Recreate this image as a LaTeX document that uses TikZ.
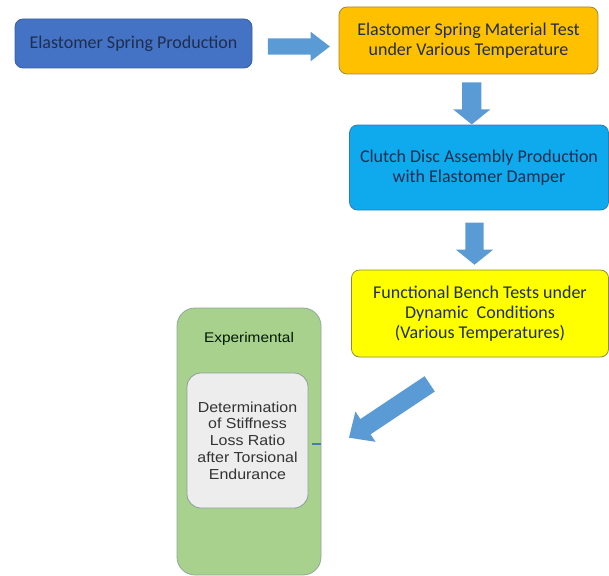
\documentclass[tikz,border=0pt]{standalone}
\usepackage{fontspec}
\setmainfont{Carlito}
\newfontfamily\arialwide[FakeStretch=1.1]{Liberation Sans}
\usetikzlibrary{calc}
\usetikzlibrary{positioning}
\usetikzlibrary{shapes.arrows}

\definecolor{springblue}{HTML}{4472C4}
\definecolor{springline}{HTML}{3A5FA0}
\definecolor{testorange}{HTML}{FFC000}
\definecolor{testline}{HTML}{9C8A3A}
\definecolor{clutchblue}{HTML}{0FAAEE}
\definecolor{clutchline}{HTML}{2A7FAE}
\definecolor{benchyellow}{HTML}{FFFF00}
\definecolor{benchline}{HTML}{8E8E3A}
\definecolor{expgreen}{HTML}{A9D18E}
\definecolor{expline}{HTML}{8FA89A}
\definecolor{detgray}{HTML}{EDEDED}
\definecolor{detline}{HTML}{8D9C9C}
\definecolor{flowblue}{HTML}{5B9BD5}
\definecolor{textnavy}{HTML}{1F2E4E}

\begin{document}
\begin{tikzpicture}[x=1pt,y=-1pt,
    stagebox/.style={draw,line width=0.8pt,rounded corners=8pt,align=center,
      inner sep=0pt,text=textnavy,font=\fontsize{18}{20}\selectfont},
    flowarrow/.style={single arrow,fill=flowblue,draw=none,inner xsep=0pt}]
    \useasboundingbox (0,0) rectangle (609,575);
    % process chain
    \node[stagebox,fill=springblue,draw=springline,minimum width=237pt,minimum height=49pt]
      (spring) at (133.5,43.5) {Elastomer Spring Production};
    \node[stagebox,fill=testorange,draw=testline,minimum width=259pt,minimum height=67pt]
      (test) at (468.5,40.5) {Elastomer Spring Material Test\\under Various Temperature};
    \node[stagebox,fill=clutchblue,draw=clutchline,minimum width=259pt,minimum height=85pt]
      (clutch) at (479,167.5) {Clutch Disc Assembly Production\\with Elastomer Damper};
    \node[stagebox,fill=benchyellow,draw=benchline,minimum width=257pt,minimum height=87pt]
      (bench) at (480,313.5) {Functional Bench Tests under\\Dynamic~ Conditions\\(Various Temperatures)};
    % experimental part
    \node[draw=expline,fill=expgreen,line width=0.8pt,rounded corners=18pt,
      minimum width=144pt,minimum height=267pt] (exp) at (249,441.5) {};
    \node[text=black!75!green!40!black,font=\arialwide\fontsize{14}{16}\selectfont,
      below=21pt of exp.north] (explabel) {Experimental};
    \node[draw=detline,fill=detgray,line width=0.8pt,rounded corners=14pt,align=center,
      minimum width=121pt,minimum height=135pt,text=black!80,
      font=\arialwide\fontsize{14.5}{16.7}\selectfont] (det) at (247.5,440.5)
      {Determination\\of Stiffness\\Loss Ratio\\after Torsional\\Endurance};
    \draw[flowblue!80!black,line width=2pt] ([xshift=-9pt]exp.east |- 0,444) -- (exp.east |- 0,444);
    % block arrows
    \node[flowarrow,minimum height=62pt,inner ysep=8pt,single arrow head extend=6.5pt,
      single arrow tip angle=75] (toTest) at ($(spring.east)!0.5!(test.west)+(-2,4.5)$) {};
    \node[flowarrow,rotate=-90,minimum height=42pt,inner ysep=9.5pt,single arrow head extend=9pt,
      single arrow tip angle=102] (toClutch) at ($(test.south)!0.5!(clutch.north)+(-2,0)$) {};
    \node[flowarrow,rotate=-90,minimum height=42pt,inner ysep=9pt,single arrow head extend=9.5pt,
      single arrow tip angle=102] (toBench) at ($(clutch.south)!0.5!(bench.north)+(-5,0)$) {};
    \node[flowarrow,rotate=213.7,minimum height=97pt,inner ysep=9pt,single arrow head extend=9pt,
      single arrow tip angle=85] (toExp) at (393.5,408) {};
\end{tikzpicture}
\end{document}
